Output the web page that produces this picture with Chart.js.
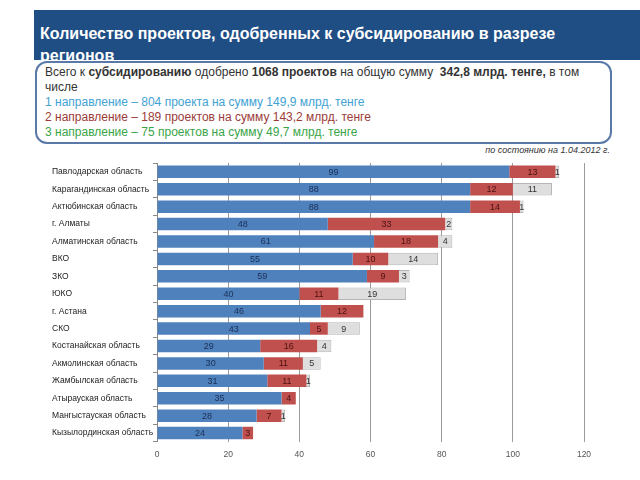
<!DOCTYPE html>
<html>
<head>
<meta charset="utf-8">
<script src="https://cdn.jsdelivr.net/npm/chart.js@4"></script>
<style>
    body { margin: 0; width: 640px; height: 480px; background: #fff; position: relative; overflow: hidden; font-family: "Liberation Sans", Arial, sans-serif; }
    #header { position: absolute; left: 34px; top: 10px; width: 606px; height: 50px; background: #1f4e85; }
    #title { position: absolute; left: 40px; top: 23px; width: 580px; color: #fff; font-weight: bold; font-size: 16px; line-height: 22px; }
    #box { position: absolute; left: 35px; top: 61px; width: 565px; height: 75px; border: 2px solid #5a78a8; border-radius: 12px; padding: 2px 0 2px 8px; font-size: 12px; line-height: 15px; color: #333; background: #fff; }
    .l1 { color: #3fa2d4; }
    .l2 { color: #9b3b38; }
    .l3 { color: #3aa548; }
    #note { position: absolute; right: 30px; top: 145px; font-size: 9px; font-style: italic; color: #333; }
    #wrap { position: absolute; left: 52px; top: 155px; width: 558px; height: 313px; }
</style>
</head>
<body>
<div id="header"></div>
<div id="title">Количество проектов, одобренных к субсидированию в разрезе регионов</div>
<div id="box">
    Всего к <b>субсидированию</b> одобрено <b>1068 проектов</b> на общую сумму &nbsp;<b>342,8 млрд. тенге,</b> в том числе<br>
    <span class="l1">1 направление – 804 проекта на сумму 149,9 млрд. тенге</span><br>
    <span class="l2">2 направление – 189 проектов на сумму 143,2 млрд. тенге</span><br>
    <span class="l3">3 направление – 75 проектов на сумму 49,7 млрд. тенге</span>
</div>
<div id="note">по состоянию на 1.04.2012 г.</div>
<div id="wrap"><canvas id="chart"></canvas></div>
<script>
const regions = [
    "Павлодарская область", "Карагандинская область", "Актюбинская область", "г. Алматы",
    "Алматинская область", "ВКО", "ЗКО", "ЮКО", "г. Астана", "СКО",
    "Костанайская область", "Акмолинская область", "Жамбылская область", "Атырауская область",
    "Мангыстауская область", "Кызылординская область"
];
const dir1 = [99, 88, 88, 48, 61, 55, 59, 40, 46, 43, 29, 30, 31, 35, 28, 24];
const dir2 = [13, 12, 14, 33, 18, 10, 9, 11, 12, 5, 16, 11, 11, 4, 7, 3];
const dir3 = [1, 11, 1, 2, 4, 14, 3, 19, 0, 9, 4, 5, 1, 0, 1, 0];
const xTicks = [0, 20, 40, 60, 80, 100, 120];

const labelColors = ['#1b2f57', '#4a1212', '#333333'];

// values written in the middle of every bar segment
const barLabels = {
    id: 'barLabels',
    afterDatasetsDraw(chart) {
        const ctx = chart.ctx;
        ctx.save();
        ctx.font = '9px "Liberation Sans", Arial, sans-serif';
        ctx.textAlign = 'center';
        ctx.textBaseline = 'middle';
        chart.data.datasets.forEach((ds, i) => {
            chart.getDatasetMeta(i).data.forEach((bar, j) => {
                const v = ds.data[j];
                if (!v) return;
                ctx.fillStyle = labelColors[i];
                ctx.fillText(v, (bar.x + bar.base) / 2, bar.y + 0.5);
            });
        });
        ctx.restore();
    }
};

new Chart(document.getElementById('chart'), {
    type: 'bar',
    data: {
        labels: regions,
        datasets: [
            { label: '1 направление', data: dir1, backgroundColor: '#4f81bd', borderWidth: 0 },
            { label: '2 направление', data: dir2, backgroundColor: '#c0504d', borderWidth: 0 },
            { label: '3 направление', data: dir3, backgroundColor: '#dedede', borderColor: '#b5b5b5', borderWidth: 1 }
        ]
    },
    options: {
        indexAxis: 'y',
        responsive: true,
        maintainAspectRatio: false,
        animation: false,
        datasets: { bar: { categoryPercentage: 0.72, barPercentage: 1 } },
        layout: { padding: { top: 8, right: 26, left: 0, bottom: 0 } },
        plugins: { legend: { display: false }, tooltip: { enabled: false } },
        scales: {
            x: {
                stacked: true,
                min: 0,
                max: 120,
                afterBuildTicks: (scale) => { scale.ticks = xTicks.map(v => ({ value: v })); },
                grid: { color: '#9a9a9a', drawTicks: false },
                border: { display: false },
                ticks: { color: '#555', font: { size: 8.5, family: '"Liberation Sans", Arial' }, padding: 8 }
            },
            y: {
                stacked: true,
                afterFit: (scale) => { scale.width = 105; },
                grid: { drawOnChartArea: false, tickLength: 4, color: '#888' },
                border: { color: '#888' },
                ticks: { crossAlign: 'far', color: '#222', font: { size: 8.5, family: '"Liberation Sans", Arial' } }
            }
        }
    },
    plugins: [barLabels]
});
</script>
</body>
</html>
